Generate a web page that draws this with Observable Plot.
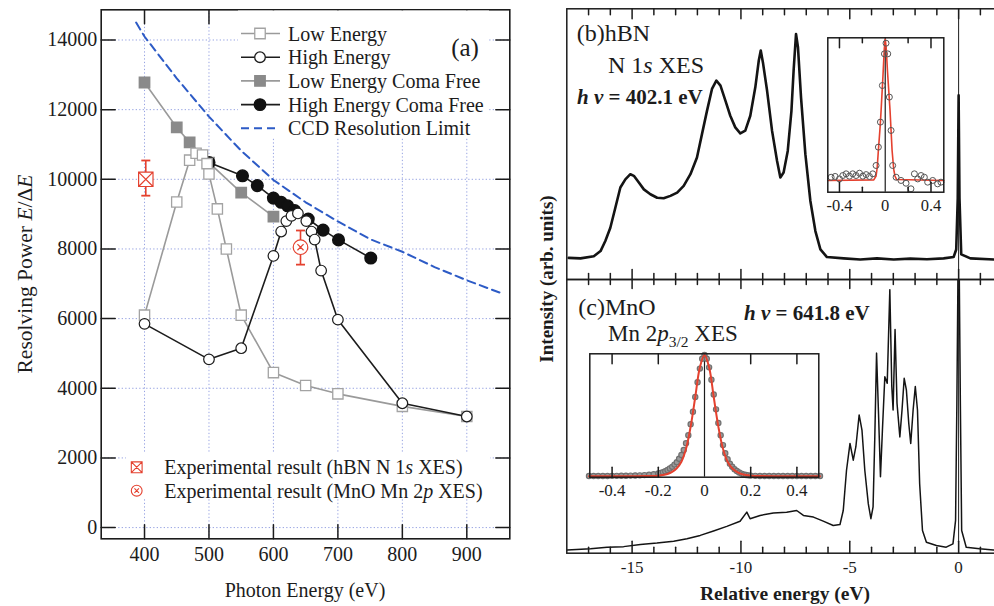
<!DOCTYPE html>
<html><head><meta charset="utf-8">
<script src="https://cdn.jsdelivr.net/npm/d3@7"></script>
<script src="https://cdn.jsdelivr.net/npm/@observablehq/plot@0.6"></script>
<style>
html,body{margin:0;padding:0;background:#fff;overflow:hidden}
#root{position:relative;width:994px;height:606px;overflow:hidden;background:#fff;font-family:"Liberation Serif","DejaVu Serif",serif}
#root > div{position:absolute}
#root svg text{font-family:"Liberation Serif","DejaVu Serif",serif}
</style></head><body><div id="root"></div>
<script>
// ---------------- data: panel (a) ----------------
const energyTicks = [400, 500, 600, 700, 800, 900];
const powerTicks = [0, 2000, 4000, 6000, 8000, 10000, 12000, 14000];
const seriesNames = ["Low Energy", "High Energy", "Low Energy Coma Free", "High Energy Coma Free", "CCD Resolution Limit"];

const lowEnergyE = [400, 450, 470, 480, 490, 497, 500, 513, 527, 550, 600, 650, 700, 800, 900];
const lowEnergyR = [6100, 9350, 10550, 10750, 10700, 10450, 10150, 9150, 8000, 6100, 4450, 4080, 3840, 3480, 3190];

const highEnergyE = [400, 500, 550, 600, 612, 620, 628, 638, 651, 659, 664, 674, 700, 800, 900];
const highEnergyR = [5850, 4830, 5150, 7800, 8500, 8800, 8950, 9020, 8800, 8500, 8270, 7380, 5970, 3570, 3190];

const lowComaFreeE = [400, 450, 470, 500, 550, 600];
const lowComaFreeR = [12780, 11490, 11060, 10480, 9620, 8930];

const highComaFreeE = [500, 552, 575, 600, 612, 622, 633, 654, 677, 701, 751];
const highComaFreeR = [10480, 10100, 9820, 9460, 9340, 9240, 9100, 8860, 8540, 8260, 7740];

const ccdLimitE = [387, 400, 450, 500, 550, 600, 650, 700, 750, 800, 850, 900, 955];
const ccdLimitR = [14500, 14100, 12900, 11800, 10820, 9980, 9340, 8790, 8280, 7920, 7480, 7100, 6720];

const expNames = ["Experimental result (hBN N 1s XES)", "Experimental result (MnO Mn 2p XES)"];
const expE = [402, 642];
const expR = [10000, 8050];
const expLow = [9530, 7550];
const expHigh = [10540, 8530];

// ---------------- data: panels (b), (c) ----------------
const relMajorTicks = [-15, -10, -5, 0];
const relMinorTicks = [-17, -16, -14, -13, -12, -11, -9, -8, -7, -6, -4, -3, -2, -1, 1];

const hbnE = [-17.91,-17.37,-16.76,-16.45,-16.23,-16.0,-15.77,-15.54,-15.31,-15.08,-14.92,-14.69,-14.46,-14.16,-13.85,-13.55,-13.24,-12.93,-12.63,-12.32,-12.02,-11.79,-11.56,-11.33,-11.13,-10.94,-10.71,-10.49,-10.26,-10.03,-9.8,-9.57,-9.34,-9.18,-9.09,-8.99,-8.8,-8.57,-8.34,-8.19,-8.04,-7.85,-7.68,-7.58,-7.47,-7.38,-7.24,-7.04,-6.81,-6.58,-6.35,-6.05,-5.28,-4.52,-3.75,-2.98,-2.22,-1.45,-0.69,-0.23,-0.11,-0.04,0,0.04,0.12,0.54,1.64,1.97];
const hbnI = [8.0,7.8,8.6,10.5,14.2,19.1,26.5,34.0,37.0,38.9,38.3,35.8,33.3,31.5,30.2,30.0,30.9,32.1,34.6,38.9,45.1,53.7,62.3,70.4,73.5,71.6,66.0,60.5,56.2,54.0,55.0,60.5,71.0,80.9,84.6,80.2,69.8,54.9,43.8,37.7,39.5,47.5,62.3,77.2,90.7,85.8,67.3,46.3,29.0,17.9,11.1,8.3,7.8,7.4,7.8,7.4,7.7,7.5,7.8,8.3,11.1,30,68,30,9.3,7.8,7.4,7.5];

const mnoE = [-17.98,-16.91,-16.15,-15.39,-14.62,-13.86,-13.09,-12.48,-11.87,-11.26,-10.65,-10.04,-9.73,-9.58,-9.12,-8.51,-7.9,-7.44,-7.13,-6.67,-6.22,-5.76,-5.45,-5.3,-5.15,-4.99,-4.84,-4.72,-4.57,-4.44,-4.31,-4.15,-4.03,-3.93,-3.85,-3.77,-3.68,-3.59,-3.5,-3.39,-3.28,-3.16,-3.07,-3.01,-2.92,-2.83,-2.7,-2.6,-2.5,-2.4,-2.29,-2.2,-2.09,-1.99,-1.89,-1.79,-1.66,-1.48,-1.02,-0.57,-0.26,-0.14,-0.08,0,0.08,0.14,0.35,0.96,1.6,1.97];
const mnoI = [1.2,1.6,2.2,2.4,3.2,3.7,4.4,5.3,6.5,8.1,9.8,11.7,15.0,12.6,13.8,14.7,15.0,15.6,13.8,13.2,11.7,10.1,10.5,15.6,30.3,40.1,34.0,38.9,50.5,45.0,30.3,18.1,12.6,16.9,42.5,73.1,51.1,27.9,45.0,64.5,62.1,96.3,60.9,52.3,81.7,54.8,42.5,52.3,63.9,59.7,47.4,40.1,52.3,60.9,52.3,25.4,8.3,4.0,2.8,2.2,3.4,12.0,54.8,130,54.8,8.3,2.2,1.6,1.2,1.2];

// insets
const hbnInsetLabels = [-0.4, 0, 0.4];
const hbnInsetMajor = [-0.4, 0.4];
const hbnInsetMinor = [-0.2, 0.2];
const hbnInsetE = [-0.473,-0.438,-0.4,-0.371,-0.342,-0.313,-0.284,-0.255,-0.225,-0.196,-0.167,-0.138,-0.109,-0.08,-0.06,-0.042,-0.025,-0.007,0.007,0.022,0.036,0.051,0.065,0.095,0.138,0.182,0.225,0.255,0.284,0.313,0.342,0.371,0.415,0.458,0.487];
const hbnInsetI = [9.7,10.2,8.6,10.8,11.9,10.4,11.9,10.8,12.3,10.4,11.4,10.2,11.9,17.3,29.2,45.4,69.1,89.6,96.5,89.6,61.6,40,17.3,9.7,7.6,5.8,2.2,11.9,8.6,10.8,9.7,6.5,7.6,5.4,6.5];
const hbnFitE = [-0.502,-0.1,-0.08,-0.07,-0.06,-0.045,-0.036,-0.02,-0.008,0,0.008,0.02,0.042,0.06,0.074,0.085,0.1,0.512];
const hbnFitI = [7.6,8,10.5,16,27,42,53,75,93,99,94,78,53,27,15,10.5,8.2,7.6];

const mnoInsetLabels = [-0.4, -0.2, 0, 0.2, 0.4];
const mnoInsetTicks = [-0.4, -0.2, 0.2, 0.4];
const mnoInsetE = [-0.50,-0.48,-0.46,-0.44,-0.42,-0.40,-0.38,-0.36,-0.34,-0.32,-0.30,-0.28,-0.26,-0.24,-0.22,-0.20,-0.19,-0.18,-0.17,-0.16,-0.15,-0.14,-0.13,-0.12,-0.11,-0.10,-0.09,-0.08,-0.07,-0.06,-0.05,-0.04,-0.03,-0.02,-0.01,0,0.01,0.02,0.03,0.04,0.05,0.06,0.07,0.08,0.09,0.10,0.11,0.12,0.13,0.14,0.15,0.16,0.17,0.18,0.19,0.20,0.22,0.24,0.26,0.28,0.30,0.32,0.34,0.36,0.38,0.40,0.42,0.44,0.46,0.48,0.50];
const mnoInsetI = [1,1,1,1,1,1.1,1.1,1.2,1.2,1.3,1.4,1.5,1.7,2.0,2.4,3.0,3.5,4.1,4.9,5.8,7.0,8.4,10.2,12.2,15,18,22,27.5,34,43,53,65,77,88,96,99,96,89,79,67,55,44,34,26,19.5,14.5,11,8.5,6.5,5,3.8,2.9,2.2,1.8,1.5,1.3,1.1,1,1,1,1,1,1,1,1,1,1,1,1,1,1];
const mnoFitE = [-0.50,-0.30,-0.25,-0.20,-0.18,-0.16,-0.14,-0.12,-0.10,-0.08,-0.06,-0.04,-0.02,0,0.02,0.04,0.06,0.08,0.10,0.12,0.14,0.16,0.18,0.20,0.25,0.30,0.50];
const mnoFitI = [0.8,0.8,0.9,1.2,1.7,2.6,4.3,7.2,12.5,23,41,65,89,99,89,65,41,23,12.5,7.2,4.3,2.6,1.7,1.2,0.9,0.8,0.8];

// ---------------- helpers ----------------
const SERIF = "Liberation Serif, DejaVu Serif, serif";
const INK = "#1c1c1c", GRAY_LINE = "#9a9a9a", GRAY_FILL = "#8a8a8a", OPEN_SQ = "#a3a3a3";
const BLUE = "#2d5bc6", RED = "#e4412f", GRID = "#97a3e2";
const rows = (xs, ys) => xs.map((x, i) => ({x, y: ys[i]}));
const fmtPlain = d => String(d);
const fmtHyphen = d => (d < 0 ? "-" + String(Math.abs(d)) : String(d));

const tickShape = {draw(ctx, l) { ctx.moveTo(0, 0); ctx.lineTo(0, -l); }};
const capSymbol = {draw(ctx, size) { const w = Math.sqrt(size / Math.PI); ctx.moveTo(-w, 0); ctx.lineTo(w, 0); }};
const xSquare = {draw(ctx, size) { const s = Math.sqrt(size / Math.PI);
  ctx.moveTo(-s, -s); ctx.lineTo(s, -s); ctx.lineTo(s, s); ctx.lineTo(-s, s); ctx.closePath();
  ctx.moveTo(-s, -s); ctx.lineTo(s, s); ctx.moveTo(s, -s); ctx.lineTo(-s, s); }};
const xCircle = {draw(ctx, size) { const r = Math.sqrt(size / Math.PI);
  ctx.moveTo(r, 0); ctx.arc(0, 0, r, 0, 2 * Math.PI); const k = r * 0.42;
  ctx.moveTo(-k, -k); ctx.lineTo(k, k); ctx.moveTo(k, -k); ctx.lineTo(-k, k); }};

function inTicks(values, side, len, opts = {}) {
  const rot = {left: 90, right: -90, top: 180, bottom: 0}[side];
  const ch = (side === "left" || side === "right") ? "y" : "x";
  return Plot.vector(values, {[ch]: d => d, frameAnchor: side, rotate: rot, length: len, anchor: "start",
    shape: tickShape, stroke: INK, strokeWidth: 1.5, ...opts});
}
const baseStyle = (size) => ({background: "transparent", fontFamily: SERIF, fontSize: size + "px", color: INK, overflow: "visible", maxWidth: "none"});
const root = document.getElementById("root");
function place(el, left, top) { const d = document.createElement("div"); d.style.left = left + "px"; d.style.top = top + "px"; d.append(el); root.append(d); }

// ---------------- panel (a) ----------------
const low = rows(lowEnergyE, lowEnergyR), high = rows(highEnergyE, highEnergyR);
const lowCF = rows(lowComaFreeE, lowComaFreeR), highCF = rows(highComaFreeE, highComaFreeR);
const ccd = rows(ccdLimitE, ccdLimitR);
const exp = expE.map((x, i) => ({x, y: expR[i], lo: expLow[i], hi: expHigh[i]}));

const plotA = Plot.plot({
  width: 530, height: 606, marginLeft: 100.7, marginRight: 20.7, marginTop: 9.3, marginBottom: 67.7,
  x: {domain: [332.8, 966.7]}, y: {domain: [-322, 14867]},
  style: baseStyle(20),
  marks: [
    Plot.gridX(energyTicks, {stroke: GRID, strokeOpacity: 1, strokeWidth: 1, strokeDasharray: "1.3,2.2"}),
    Plot.gridY(powerTicks, {stroke: GRID, strokeOpacity: 1, strokeWidth: 1, strokeDasharray: "1.3,2.2"}),
    Plot.line(ccd, {x: "x", y: "y", stroke: BLUE, strokeWidth: 2, strokeDasharray: "8,5"}),
    Plot.line(lowCF, {x: "x", y: "y", stroke: GRAY_LINE, strokeWidth: 1.6}),
    Plot.dot(lowCF, {x: "x", y: "y", symbol: "square", r: 5.8, fill: GRAY_FILL, stroke: GRAY_FILL}),
    Plot.line(highCF, {x: "x", y: "y", stroke: INK, strokeWidth: 1.6}),
    Plot.dot(highCF, {x: "x", y: "y", r: 5.8, fill: "#111", stroke: "#111"}),
    Plot.line(low, {x: "x", y: "y", stroke: GRAY_LINE, strokeWidth: 1.6}),
    Plot.dot(low, {x: "x", y: "y", symbol: "square", r: 5.8, fill: "white", stroke: OPEN_SQ, strokeWidth: 1.3}),
    Plot.line(high, {x: "x", y: "y", stroke: INK, strokeWidth: 1.6}),
    Plot.dot(high, {x: "x", y: "y", r: 5.3, fill: "white", stroke: INK, strokeWidth: 1.2}),
    Plot.ruleX(exp, {x: "x", y1: "lo", y2: "hi", stroke: RED, strokeWidth: 1.6}),
    Plot.dot(exp, {x: "x", y: "lo", symbol: capSymbol, r: 4.5, stroke: RED, strokeWidth: 1.8}),
    Plot.dot(exp, {x: "x", y: "hi", symbol: capSymbol, r: 4.5, stroke: RED, strokeWidth: 1.8}),
    Plot.dot(exp.slice(0, 1), {x: "x", y: "y", symbol: xSquare, r: 7.2, fill: "white", stroke: RED, strokeWidth: 1.2}),
    Plot.dot(exp.slice(1, 2), {x: "x", y: "y", symbol: xCircle, r: 7.3, fill: "white", stroke: RED, strokeWidth: 1.2}),
    inTicks(powerTicks, "left", 14), inTicks(powerTicks, "right", 14),
    inTicks(energyTicks, "bottom", 14), inTicks(energyTicks, "top", 14),
    Plot.axisY(powerTicks, {anchor: "left", tickSize: 0, tickPadding: 4, tickFormat: fmtPlain, fontSize: 20, fontFamily: SERIF, label: null}),
    Plot.axisX(energyTicks, {anchor: "bottom", tickSize: 0, tickPadding: 8, tickFormat: fmtPlain, fontSize: 20, fontFamily: SERIF, label: null}),
    Plot.frame({stroke: INK, strokeWidth: 1.6})
  ]
});
place(plotA, 0, 0);

// ---------------- panel (b) ----------------
const hbn = rows(hbnE, hbnI), mno = rows(mnoE, mnoI);
const plotB = Plot.plot({
  width: 481, height: 290, marginLeft: 46.3, marginRight: 0, marginTop: 8.3, marginBottom: 11,
  x: {domain: [-18, 1.97], axis: null}, y: {domain: [0, 100], axis: null},
  style: baseStyle(17),
  marks: [
    Plot.ruleX([0], {stroke: INK, strokeWidth: 1}),
    Plot.line(hbn, {x: "x", y: "y", stroke: "#141414", strokeWidth: 2.6, clip: true}),
    inTicks(relMajorTicks, "top", 10), inTicks(relMinorTicks, "top", 6),
    inTicks(relMajorTicks, "bottom", 10), inTicks(relMinorTicks, "bottom", 6),
    Plot.frame({stroke: INK, strokeWidth: 1.5})
  ]
});
place(plotB, 520, 0);

// ---------------- panel (c) ----------------
const plotC = Plot.plot({
  width: 481, height: 336, marginLeft: 46.3, marginRight: 0, marginTop: 9, marginBottom: 53.3,
  x: {domain: [-18, 1.97]}, y: {domain: [0, 100], axis: null},
  style: baseStyle(17),
  marks: [
    Plot.ruleX([0], {stroke: INK, strokeWidth: 1}),
    Plot.line(mno, {x: "x", y: "y", stroke: "#141414", strokeWidth: 1.5, clip: true}),
    inTicks(relMajorTicks, "top", 9), inTicks(relMinorTicks, "top", 5),
    inTicks(relMajorTicks, "bottom", 12), inTicks(relMinorTicks, "bottom", 6),
    Plot.axisX(relMajorTicks, {anchor: "bottom", tickSize: 0, tickPadding: 8, tickFormat: fmtHyphen, fontSize: 17, fontFamily: SERIF, label: null}),
    Plot.frame({stroke: INK, strokeWidth: 1.5})
  ]
});
place(plotC, 520, 270);

// ---------------- inset (b) ----------------
const plotBi = Plot.plot({
  width: 160, height: 190, marginLeft: 27.3, marginRight: 16.7, marginTop: 7.3, marginBottom: 28.3,
  x: {domain: [-0.502, 0.512]}, y: {domain: [0, 100], axis: null},
  style: baseStyle(16.5),
  marks: [
    Plot.ruleX([0], {stroke: INK, strokeWidth: 1.2}),
    Plot.line(rows(hbnFitE, hbnFitI), {x: "x", y: "y", stroke: RED, strokeWidth: 1.6}),
    Plot.dot(rows(hbnInsetE, hbnInsetI), {x: "x", y: "y", r: 3, stroke: "#555", strokeWidth: 1, fill: "none"}),
    inTicks(hbnInsetMajor, "top", 10), inTicks(hbnInsetMinor, "top", 5),
    inTicks(hbnInsetMajor, "bottom", 10), inTicks(hbnInsetMinor, "bottom", 5),
    Plot.axisX(hbnInsetLabels, {anchor: "bottom", tickSize: 0, tickPadding: 7, tickFormat: fmtHyphen, fontSize: 16.5, fontFamily: SERIF, label: null}),
    Plot.frame({stroke: INK, strokeWidth: 1.5})
  ]
});
place(plotBi, 800, 30);

// ---------------- inset (c) ----------------
const plotCi = Plot.plot({
  width: 270, height: 165, marginLeft: 19.3, marginRight: 21.7, marginTop: 13.3, marginBottom: 28.3,
  x: {domain: [-0.4965, 0.4948]}, y: {domain: [0, 100], axis: null},
  style: baseStyle(17),
  marks: [
    Plot.ruleX([0], {stroke: INK, strokeWidth: 1.2}),
    Plot.dot(rows(mnoInsetE, mnoInsetI), {x: "x", y: "y", r: 2.6, stroke: "#707070", strokeWidth: 1.2, fill: "#9a9a9a"}),
    Plot.line(rows(mnoFitE, mnoFitI), {x: "x", y: "y", stroke: RED, strokeWidth: 2, curve: "catmull-rom"}),
    inTicks(mnoInsetTicks, "top", 10), inTicks(mnoInsetTicks, "bottom", 10),
    Plot.axisX(mnoInsetLabels, {anchor: "bottom", tickSize: 0, tickPadding: 7, tickFormat: fmtHyphen, fontSize: 17, fontFamily: SERIF, label: null}),
    Plot.frame({stroke: INK, strokeWidth: 1.5})
  ]
});
place(plotCi, 570, 340);

// ---------------- overlay: legends and annotations ----------------
const ov = d3.select(root).append("svg").attr("width", 994).attr("height", 606)
  .style("position", "absolute").style("left", 0).style("top", 0)
  .attr("font-family", SERIF).style("pointer-events", "none");

function addText(x, y, parts, {size = 20, anchor = "start", weight = "normal", rotate = 0} = {}) {
  const t = ov.append("text").attr("transform", `translate(${x},${y}) rotate(${rotate})`)
    .attr("y", size * 0.35).attr("text-anchor", anchor).attr("font-size", size).attr("font-weight", weight)
    .attr("font-family", SERIF).attr("fill", INK);
  for (const p of parts) {
    const o = typeof p === "string" ? {t: p} : p;
    const ts = t.append("tspan").text(o.t);
    if (o.i) ts.attr("font-style", "italic");
    if (o.size) ts.attr("font-size", o.size);
    if (o.dy) ts.attr("dy", o.dy);
  }
  return t;
}

// legend (a)
ov.append("rect").attr("x", 238).attr("y", 10.5).attr("width", 251).attr("height", 127).attr("fill", "white");
const legSpec = [
  {stroke: GRAY_LINE, sym: d3.symbolSquare, size: 110, fill: "white", symStroke: OPEN_SQ},
  {stroke: INK, sym: d3.symbolCircle, size: Math.PI * 5.3 * 5.3, fill: "white", symStroke: INK},
  {stroke: GRAY_LINE, sym: d3.symbolSquare, size: 110, fill: GRAY_FILL, symStroke: GRAY_FILL},
  {stroke: INK, sym: d3.symbolCircle, size: Math.PI * 5.8 * 5.8, fill: "#111", symStroke: "#111"},
  {stroke: BLUE, dash: "8,5", sym: null}
];
seriesNames.forEach((name, i) => {
  const y = 33.5 + i * 23.7, s = legSpec[i];
  ov.append("line").attr("x1", 241).attr("x2", 280).attr("y1", y).attr("y2", y)
    .attr("stroke", s.stroke).attr("stroke-width", s.sym ? 1.6 : 2).attr("stroke-dasharray", s.dash || null);
  if (s.sym) ov.append("path").attr("transform", `translate(260,${y})`).attr("d", d3.symbol(s.sym, s.size)())
    .attr("fill", s.fill).attr("stroke", s.symStroke).attr("stroke-width", 1.3);
  addText(288, y, [name], {size: 20});
});
addText(465, 47, ["(a)"], {size: 25, anchor: "middle"});

// bottom legend (a)
ov.append("rect").attr("x", 126).attr("y", 453).attr("width", 364).attr("height", 46).attr("fill", "white");
const expSyms = [xSquare, xCircle];
expNames.forEach((name, i) => {
  const y = 467.3 + i * 23.4;
  ov.append("path").attr("transform", `translate(136.7,${y})`).attr("d", d3.symbol(expSyms[i], Math.PI * 5.4 * 5.4)())
    .attr("fill", "white").attr("stroke", RED).attr("stroke-width", 1.1);
  const m = name.match(/^(.*\d)([a-z])( XES\))$/);
  addText(164.3, y, [m[1], {t: m[2], i: true}, m[3]], {size: 20});
});

// axis titles (a)
addText(24, 274, ["Resolving Power ", {t: "E", i: true}, {t: "/Δ"}, {t: "E", i: true}], {size: 21.5, anchor: "middle", rotate: -90});
addText(305, 590, ["Photon Energy (eV)"], {size: 20, anchor: "middle"});

// panel (b) annotations
addText(576.7, 33, ["(b)hBN"], {size: 24});
addText(608, 65, ["N 1", {t: "s", i: true}, " XES"], {size: 24});
addText(577, 97, [{t: "h", i: true}, " ", {t: "ν", i: true}, " = 402.1 eV"], {size: 21, weight: "bold"});

// panel (c) annotations
addText(578.3, 306.7, ["(c)MnO"], {size: 24});
addText(608, 332.5, ["Mn 2", {t: "p", i: true}, {t: "3/2", size: 15.5, dy: 6}, {t: " XES", dy: -6}], {size: 23});
addText(744, 312.5, [{t: "h", i: true}, " ", {t: "ν", i: true}, " = 641.8 eV"], {size: 21, weight: "bold"});

// shared axis titles (b,c)
addText(546, 279, ["Intensity (arb. units)"], {size: 19, anchor: "middle", rotate: -90, weight: "bold"});
addText(785, 593, ["Relative energy (eV)"], {size: 19.5, anchor: "middle", weight: "bold"});
</script>
</body></html>
